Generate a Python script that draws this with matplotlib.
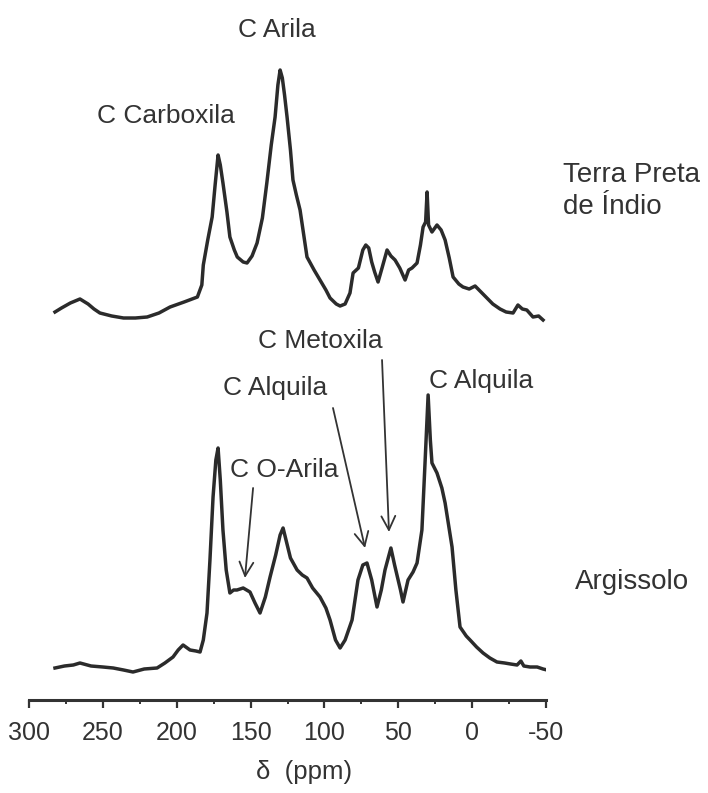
import numpy as np
import matplotlib
matplotlib.use("Agg")
import matplotlib.pyplot as plt
from matplotlib.ticker import MultipleLocator

plt.rcParams['font.family'] = ['Liberation Sans', 'DejaVu Sans']
plt.rcParams['axes.unicode_minus'] = False

# Terra Preta de Indio spectrum (ppm, intensity above its own baseline)
tpi_ppm = [282.4, 278, 272, 265.5, 260, 256, 252, 244, 236, 228, 220, 212, 204.5, 195, 186,
           183, 182, 179, 176, 174, 172, 170.5, 168.7, 166, 164, 161, 159, 155, 152.4, 149,
           145.6, 142, 139, 136, 133.4, 131.5, 130, 128.5, 127, 125.3, 123, 121.3, 119, 116.5,
           114, 111.8, 107, 103, 99, 96.2, 92, 89.4, 86, 82.7, 80.6, 77, 74, 72, 70, 68, 66,
           63.7, 61, 57.6, 55, 52.2, 49, 45.4, 43, 40.7, 37.3, 35, 33.2, 31.5, 30.5, 29.5,
           27.2, 23.8, 21, 18.3, 15.5, 12.9, 9, 6.2, 2, -2, -6, -10, -14, -18.9, -23, -27.7,
           -31, -34, -37, -41.2, -45, -48]
tpi_int = [6, 10, 15, 19, 14, 9, 5, 2, 0, 0, 1, 5, 11, 16, 21,
           33, 53, 78, 101, 133, 163, 153, 135, 106, 81, 68, 61, 56, 55, 62,
           75, 100, 135, 173, 201, 233, 248, 240, 223, 201, 168, 138, 123, 108,
           83, 61, 48, 38, 28, 20, 14, 12, 14, 25, 45, 50, 68, 73, 70, 56, 46,
           36, 50, 68, 62, 58, 50, 38, 48, 50, 55, 73, 91, 96, 126, 93,
           86, 93, 88, 78, 60, 41, 34, 31, 29, 32, 26, 20, 14, 9, 6, 5,
           13, 9, 8, 1, 2, -2]

# Argissolo spectrum
arg_ppm = [282.4, 276, 270, 265.5, 258, 250, 243, 236, 229.6, 222, 213.3, 208, 202.5, 199,
           195.7, 191, 187, 184.2, 182, 179.5, 177.5, 175.4, 173.5, 172, 170.5, 168.7, 166.5,
           164, 161.5, 159.2, 155, 150.4, 147, 143.6, 140, 136.8, 133, 130, 128, 126, 123,
           118.5, 115, 111.8, 108, 103, 99, 96.2, 92.5, 89.4, 86, 81.3, 77.3, 74, 71.2, 68,
           64.4, 61.5, 59, 55, 52.5, 50.9, 48.5, 46.8, 43.4, 40, 37.3, 34, 31.9, 29.8, 28.3,
           27.2, 23.8, 20.5, 18.3, 13.6, 11, 8.2, 4, 1.4, -3, -7.4, -12, -16.8, -22, -26,
           -30.4, -33, -35, -39.2, -44, -48, -50.7]
arg_int = [2, 4, 5, 7, 4, 3, 2, 0, -2, 1, 2, 7, 13, 20,
           25, 20, 19, 18, 30, 57, 110, 173, 210, 222, 190, 140, 100,
           77, 80, 80, 82, 78, 67, 57, 73, 93, 115, 135, 142, 130, 112,
           100, 95, 92, 82, 73, 62, 50, 30, 22, 30, 50, 90, 105, 107, 90,
           63, 80, 100, 122, 105, 95, 80, 68, 90, 98, 107, 140, 207, 275, 230,
           207, 197, 182, 167, 123, 80, 43, 34, 30, 23, 17, 12, 8, 7, 6,
           5, 9, 4, 3, 3, 1, 0]

tpi_offset = 352
line_color = '#2b2b2b'

fig = plt.figure(figsize=(7.08, 7.93), dpi=100)
ax = fig.add_axes([29 / 708, 93 / 793, 517 / 708, 700 / 793])

ax.plot(tpi_ppm, np.array(tpi_int) + tpi_offset, color=line_color, lw=2.5)
ax.plot(arg_ppm, arg_int, color=line_color, lw=2.5)

ax.set_xlim(300, -50)
ax.set_ylim(-30, 670)

for s in ['left', 'top', 'right']:
    ax.spines[s].set_visible(False)
ax.spines['bottom'].set_linewidth(2.2)
ax.spines['bottom'].set_color('#333333')
ax.set_yticks([])
ax.xaxis.set_major_locator(MultipleLocator(50))
ax.xaxis.set_minor_locator(MultipleLocator(25))
ax.tick_params(axis='x', which='major', length=6, width=1.6, color='#333333',
               labelsize=18, labelcolor='#333333', pad=9)
ax.tick_params(axis='x', which='minor', length=3, width=1.4, color='#333333')
ax.set_xlabel('δ  (ppm)', fontsize=18.5, color='#333333')
ax.xaxis.set_label_coords(0.532, -0.085)

txt = dict(fontsize=19, color='#333333', ha='center', va='center')
ax.text(132.1, 640, 'C Arila', **txt)
ax.text(207.2, 554, 'C Carboxila', **txt)
ax.text(103, 329, 'C Metoxila', **txt)
ax.text(133.1, 282, 'C Alquila', **txt)
ax.text(127.4, 200, 'C O-Arila', **txt)
ax.text(-6.4, 289, 'C Alquila', **txt)

ax.text(-61.5, 479, 'Terra Preta\nde Índio', fontsize=20, color='#333333',
        ha='left', va='center', linespacing=1.3, clip_on=False)
ax.text(-69.7, 88, 'Argissolo', fontsize=20, color='#333333',
        ha='left', va='center', clip_on=False)

arrow = dict(arrowstyle='->', color='#333333', lw=1.3, mutation_scale=25,
             shrinkA=0, shrinkB=0)
ax.annotate('', xy=(153.8, 92), xytext=(148.3, 182), arrowprops=arrow)
ax.annotate('', xy=(72.5, 122), xytext=(94.2, 262), arrowprops=arrow)
ax.annotate('', xy=(56.3, 138), xytext=(61, 310), arrowprops=arrow)

fig.savefig('out.png', dpi=100)
